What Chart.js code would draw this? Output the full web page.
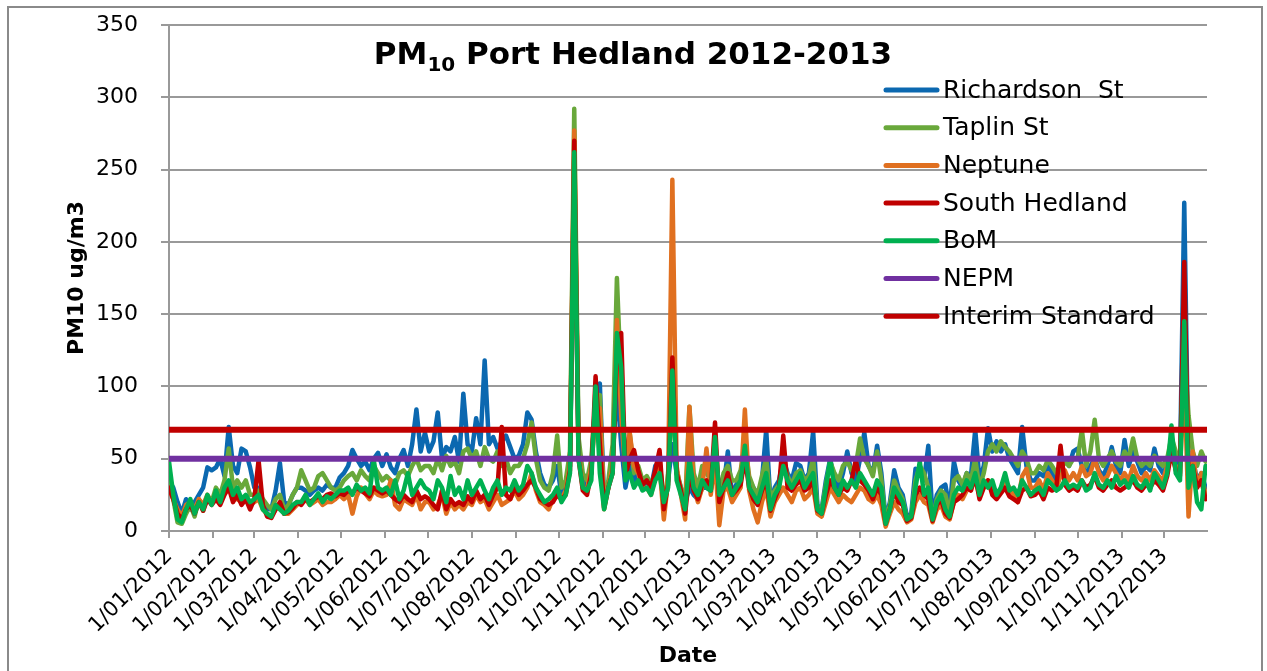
<!DOCTYPE html>
<html><head><meta charset="utf-8">
<script src="https://cdn.jsdelivr.net/npm/chart.js@4.4.1/dist/chart.umd.min.js"></script>
<style>html,body{margin:0;padding:0;background:#fff;overflow:hidden}canvas{display:block}</style>
</head><body>
<canvas id="c" width="1267" height="671"></canvas>
<script>
// ---- data (one point every 3 days from 1/01/2012) ----
const startDate = '1/01/2012';
const endDate = '31/12/2013';
const stepDays = 3;
const tickLabels = ['1/01/2012','1/02/2012','1/03/2012','1/04/2012','1/05/2012','1/06/2012','1/07/2012','1/08/2012','1/09/2012','1/10/2012','1/11/2012','1/12/2012',
  '1/01/2013','1/02/2013','1/03/2013','1/04/2013','1/05/2013','1/06/2013','1/07/2013','1/08/2013','1/09/2013','1/10/2013','1/11/2013','1/12/2013'];
const yTickStep = 50;
const yMax = 350;

const richardson = [
  35,30,20,12,22,15,20,25,30,44,42, 44,50,38,72,45,40,57,55,44, 30,30,20,15,15,28,47,20,18,25,30,
  30,28,25,28,30,28,32,30,30,37, 40,45,56,50,45,48,42,50,54,45, 53,44,40,50,56,45,60,84,55,68,
  55,62,82,50,58,55,65,48,95,60, 55,78,60,118,60,65,57,62,66,58,50, 52,60,82,77,55,40,32,30,35,45,
  25,30,45,250,60,35,30,40,95,102, 20,30,50,100,60,30,45,35,40,30, 35,30,45,48,18,35,60,40,30,20,
  30,25,22,30,30,28,45,22,30,55,25, 32,40,55,35,30,25,35,70,20, 30,35,50,40,35,47,45,35,40,69,
  18,15,35,50,35,30,40,55,40,35, 50,68,45,40,59,40,8,20,42,30,25, 10,12,43,40,35,59,10,25,30,32,
  15,48,35,30,40,38,70,35,45,71, 55,62,55,60,50,45,40,72,45,35, 35,40,38,45,40,35,40,50,45,55,
  57,45,40,45,50,42,38,45,58,45,40, 63,45,55,48,40,45,42,57,45,40, 45,60,50,45,227,40,50,35,40,30
];
const taplin = [
  40,22,6,5,12,18,10,22,14,24,20, 30,25,35,57,30,35,30,35,25, 25,28,22,18,15,22,25,15,18,25,30,
  42,35,28,30,38,40,35,30,28,30, 35,38,40,35,42,38,35,45,40,35, 38,35,32,40,42,38,45,50,42,45,
  45,40,50,42,52,45,48,40,55,57, 50,55,45,58,50,48,55,45,50,40,45, 45,50,60,75,50,35,30,28,40,66,
  30,35,55,292,65,40,35,50,90,94, 18,35,60,175,100,45,68,40,45,35, 38,32,40,50,15,40,95,42,30,18,
  86,40,30,45,40,35,60,25,40,45,35, 35,42,60,38,30,25,38,50,22, 28,32,50,38,32,40,42,35,38,50,
  16,14,32,48,40,35,45,48,42,45, 64,50,45,38,55,35,6,18,35,28,22, 8,10,35,45,40,30,8,22,28,25,
  12,35,38,32,40,35,50,30,40,55, 60,55,62,58,55,50,45,55,50,40, 40,45,42,49,45,40,42,48,45,50,
  50,70,45,55,77,50,45,50,55,48,45, 55,50,64,50,45,48,45,52,48,45, 50,65,55,50,130,80,55,45,55,48
];
const neptune = [
  30,22,15,10,18,20,15,22,18,25,20, 25,20,28,30,25,22,20,22,18, 20,22,15,12,10,15,18,12,12,15,18,
  20,22,18,20,22,18,20,20,22,25, 22,25,12,24,30,26,22,28,25,24, 25,35,18,15,22,20,18,25,15,20,
  20,15,18,25,12,20,15,18,15,20, 18,25,20,22,15,20,25,18,20,22,28, 22,25,30,40,28,20,18,15,22,25,
  22,28,45,277,55,30,28,45,80,85, 15,30,45,146,80,40,68,45,40,30, 30,25,38,45,8,35,243,45,25,8,
  86,30,20,30,57,25,50,4,28,30,20, 25,30,84,28,15,6,20,30,10, 20,25,30,25,20,28,30,22,25,30,
  12,10,20,30,25,20,25,22,20,25, 30,28,22,20,25,18,3,12,20,15,12, 6,8,20,25,20,18,6,15,18,10,
  8,20,25,22,28,30,35,25,30,35, 30,25,28,35,30,25,20,38,43,30, 30,35,28,40,35,30,38,42,35,40,
  35,45,38,40,50,40,35,38,45,40,35, 40,35,45,38,35,40,35,42,38,35, 45,50,45,40,110,10,55,30,40,25
];
const southHedland = [
  30,22,12,8,15,18,12,20,14,22,18, 22,18,25,30,20,25,18,22,15, 22,49,18,10,9,15,20,12,13,16,20,
  18,22,20,22,24,22,25,26,24,26, 25,28,26,30,28,26,24,30,28,26, 28,25,22,20,25,22,20,28,22,24,
  22,18,15,28,15,22,18,20,18,24, 20,28,22,25,18,25,30,72,25,22,30, 25,28,32,35,30,22,20,18,20,25,
  22,25,42,270,50,28,25,40,107,60, 16,30,40,120,137,38,50,56,42,32, 35,30,42,56,15,32,120,40,28,12,
  40,28,22,32,35,28,75,20,30,40,25, 28,32,50,30,22,18,28,35,14, 22,30,66,30,28,32,35,28,30,35,
  14,12,25,35,30,25,30,28,35,49, 35,32,28,22,30,25,5,15,28,20,18, 7,9,25,30,25,22,7,18,22,12,
  9,20,22,25,30,28,38,22,30,35, 25,22,26,30,24,22,20,28,30,24, 25,28,22,30,28,30,59,32,28,30,
  28,35,30,32,38,30,28,32,35,30,28, 30,32,35,30,28,32,30,35,32,28, 38,55,42,38,186,35,45,30,35,22
];
const bom = [
  48,25,8,6,15,22,12,20,15,25,18, 28,20,30,35,25,30,22,25,20, 22,25,15,12,10,18,15,12,14,18,20,
  20,25,18,22,26,20,24,22,25,28, 28,30,25,32,28,30,26,49,30,28, 30,25,35,22,28,40,25,30,35,30,
  28,22,35,30,20,38,25,30,22,35, 25,30,35,28,22,30,35,25,30,28,35, 28,32,45,40,30,25,20,22,25,30,
  20,25,40,262,50,30,28,35,100,40, 15,30,40,137,113,35,40,30,35,28, 30,25,35,40,20,30,111,35,25,15,
  50,30,25,35,30,28,65,25,30,35,25, 30,35,59,30,25,20,30,40,15, 25,30,45,35,30,35,40,30,35,40,
  15,12,30,49,30,25,35,30,35,30, 40,35,30,25,35,30,5,15,30,25,20, 8,10,30,48,25,30,8,20,25,15,
  10,25,30,28,35,30,40,25,35,30, 35,25,30,40,28,30,25,35,30,25, 28,30,25,35,32,28,30,35,30,32,
  30,35,28,30,40,32,30,35,30,38,32, 35,30,38,32,30,35,28,40,35,30, 40,73,40,35,145,30,45,20,15,45
];
const nepmLimit = 50;
const interimLimit = 70;

// ---- helpers ----
const dayOf = s => { const [d,m,y] = s.split('/').map(Number); const [d0,m0,y0] = startDate.split('/').map(Number);
  return Math.round((Date.UTC(y,m-1,d) - Date.UTC(y0,m0-1,d0)) / 864e5); };
const tickDays = tickLabels.map(dayOf);
const lastDay = dayOf(endDate);
const toPts = arr => arr.map((v,i) => ({x: i*stepDays, y: v}));
const flat = v => [{x: 0, y: v}, {x: lastDay, y: v}];

const FONT = 'DejaVu Sans';
function ds(label, data, color, order, width) {
  return {label, data, borderColor: color, backgroundColor: color, borderWidth: width,
    pointRadius: 0, pointHoverRadius: 0, tension: 0, borderJoinStyle: 'round', borderCapStyle: 'round',
    fill: false, order};
}
const datasets = [
  ds('Richardson  St', toPts(richardson), '#0B68B0', 7, 4.5),
  ds('Taplin St', toPts(taplin), '#69A83B', 6, 4.5),
  ds('Neptune', toPts(neptune), '#E07020', 5, 4.5),
  ds('South Hedland', toPts(southHedland), '#C00000', 4, 4.5),
  ds('BoM', toPts(bom), '#00B050', 3, 4.5),
  ds('NEPM', flat(nepmLimit), '#7030A0', 2, 6),
  ds('Interim Standard', flat(interimLimit), '#C00000', 1, 6)
];

const framePlugin = {
  id: 'frame',
  beforeDraw(chart) {
    const ctx = chart.ctx;
    ctx.save();
    ctx.fillStyle = '#fff';
    ctx.fillRect(0, 0, chart.width, chart.height);
    ctx.strokeStyle = '#8a8a8a';
    ctx.lineWidth = 2;
    ctx.strokeRect(8, 7, 1254, 700);
    ctx.restore();
  }
};

const titlePlugin = {
  id: 'subTitle',
  afterDraw(chart) {
    const ctx = chart.ctx;
    ctx.save();
    ctx.fillStyle = '#000';
    ctx.textBaseline = 'alphabetic';
    const big = 'bold 31px "' + FONT + '"', small = 'bold 20px "' + FONT + '"';
    const p1 = 'PM', p2 = '10', p3 = ' Port Hedland 2012-2013';
    ctx.font = big; const w1 = ctx.measureText(p1).width, w3 = ctx.measureText(p3).width;
    ctx.font = small; const w2 = ctx.measureText(p2).width;
    const total = w1 + w2 + w3;
    let x = 633 - total / 2; const y = 64;
    ctx.font = big; ctx.fillText(p1, x, y); x += w1;
    ctx.font = small; ctx.fillText(p2, x, y + 7); x += w2;
    ctx.font = big; ctx.fillText(p3, x, y);
    ctx.restore();
  }
};

const legendPlugin = {
  id: 'customLegend',
  afterDraw(chart) {
    const ctx = chart.ctx;
    ctx.save();
    ctx.font = '25px "' + FONT + '"';
    ctx.textBaseline = 'middle';
    chart.data.datasets.forEach((d, i) => {
      const y = 90 + i * 37.7;
      ctx.strokeStyle = d.borderColor;
      ctx.lineWidth = 5;
      ctx.lineCap = 'round';
      ctx.beginPath(); ctx.moveTo(886, y); ctx.lineTo(937, y); ctx.stroke();
      ctx.fillStyle = '#000';
      ctx.fillText(d.label, 943, y + 1);
    });
    ctx.restore();
  }
};

new Chart(document.getElementById('c'), {
  type: 'line',
  data: {datasets},
  plugins: [framePlugin, titlePlugin, legendPlugin],
  options: {
    responsive: false, animation: false, devicePixelRatio: 1, events: [],
    layout: {padding: {left: 0, top: 25, right: 60, bottom: 0}},
    plugins: {legend: {display: false}, title: {display: false}, tooltip: {enabled: false}},
    scales: {
      x: {
        type: 'linear', min: 0, max: lastDay,
        afterBuildTicks: s => { s.ticks = tickDays.map(v => ({value: v})); },
        afterFit: s => { s.height = 140; },
        ticks: {autoSkip: false, maxRotation: 45, minRotation: 45, padding: 6,
          callback: (v, i) => tickLabels[i], font: {family: FONT, size: 21}, color: '#000'},
        grid: {drawOnChartArea: false, drawTicks: true, tickLength: 7, color: '#999', lineWidth: 2},
        border: {display: true, color: '#999', width: 2},
        title: {display: true, text: 'Date', color: '#000', font: {family: FONT, size: 22, weight: 'bold'},
          padding: {top: 0, bottom: 2}}
      },
      y: {
        min: 0, max: yMax,
        afterFit: s => { s.width = 169; s.paddingTop = 0; s.paddingBottom = 0; },
        ticks: {stepSize: yTickStep, padding: 23, font: {family: FONT, size: 22}, color: '#000'},
        grid: {color: '#999', lineWidth: 2, drawTicks: true, tickLength: 8},
        border: {display: true, color: '#999', width: 2},
        title: {display: true, text: 'PM10 ug/m3', color: '#000', font: {family: FONT, size: 22, weight: 'bold'},
          padding: {top: 64, bottom: 0}}
      }
    }
  }
});
</script>
</body></html>
